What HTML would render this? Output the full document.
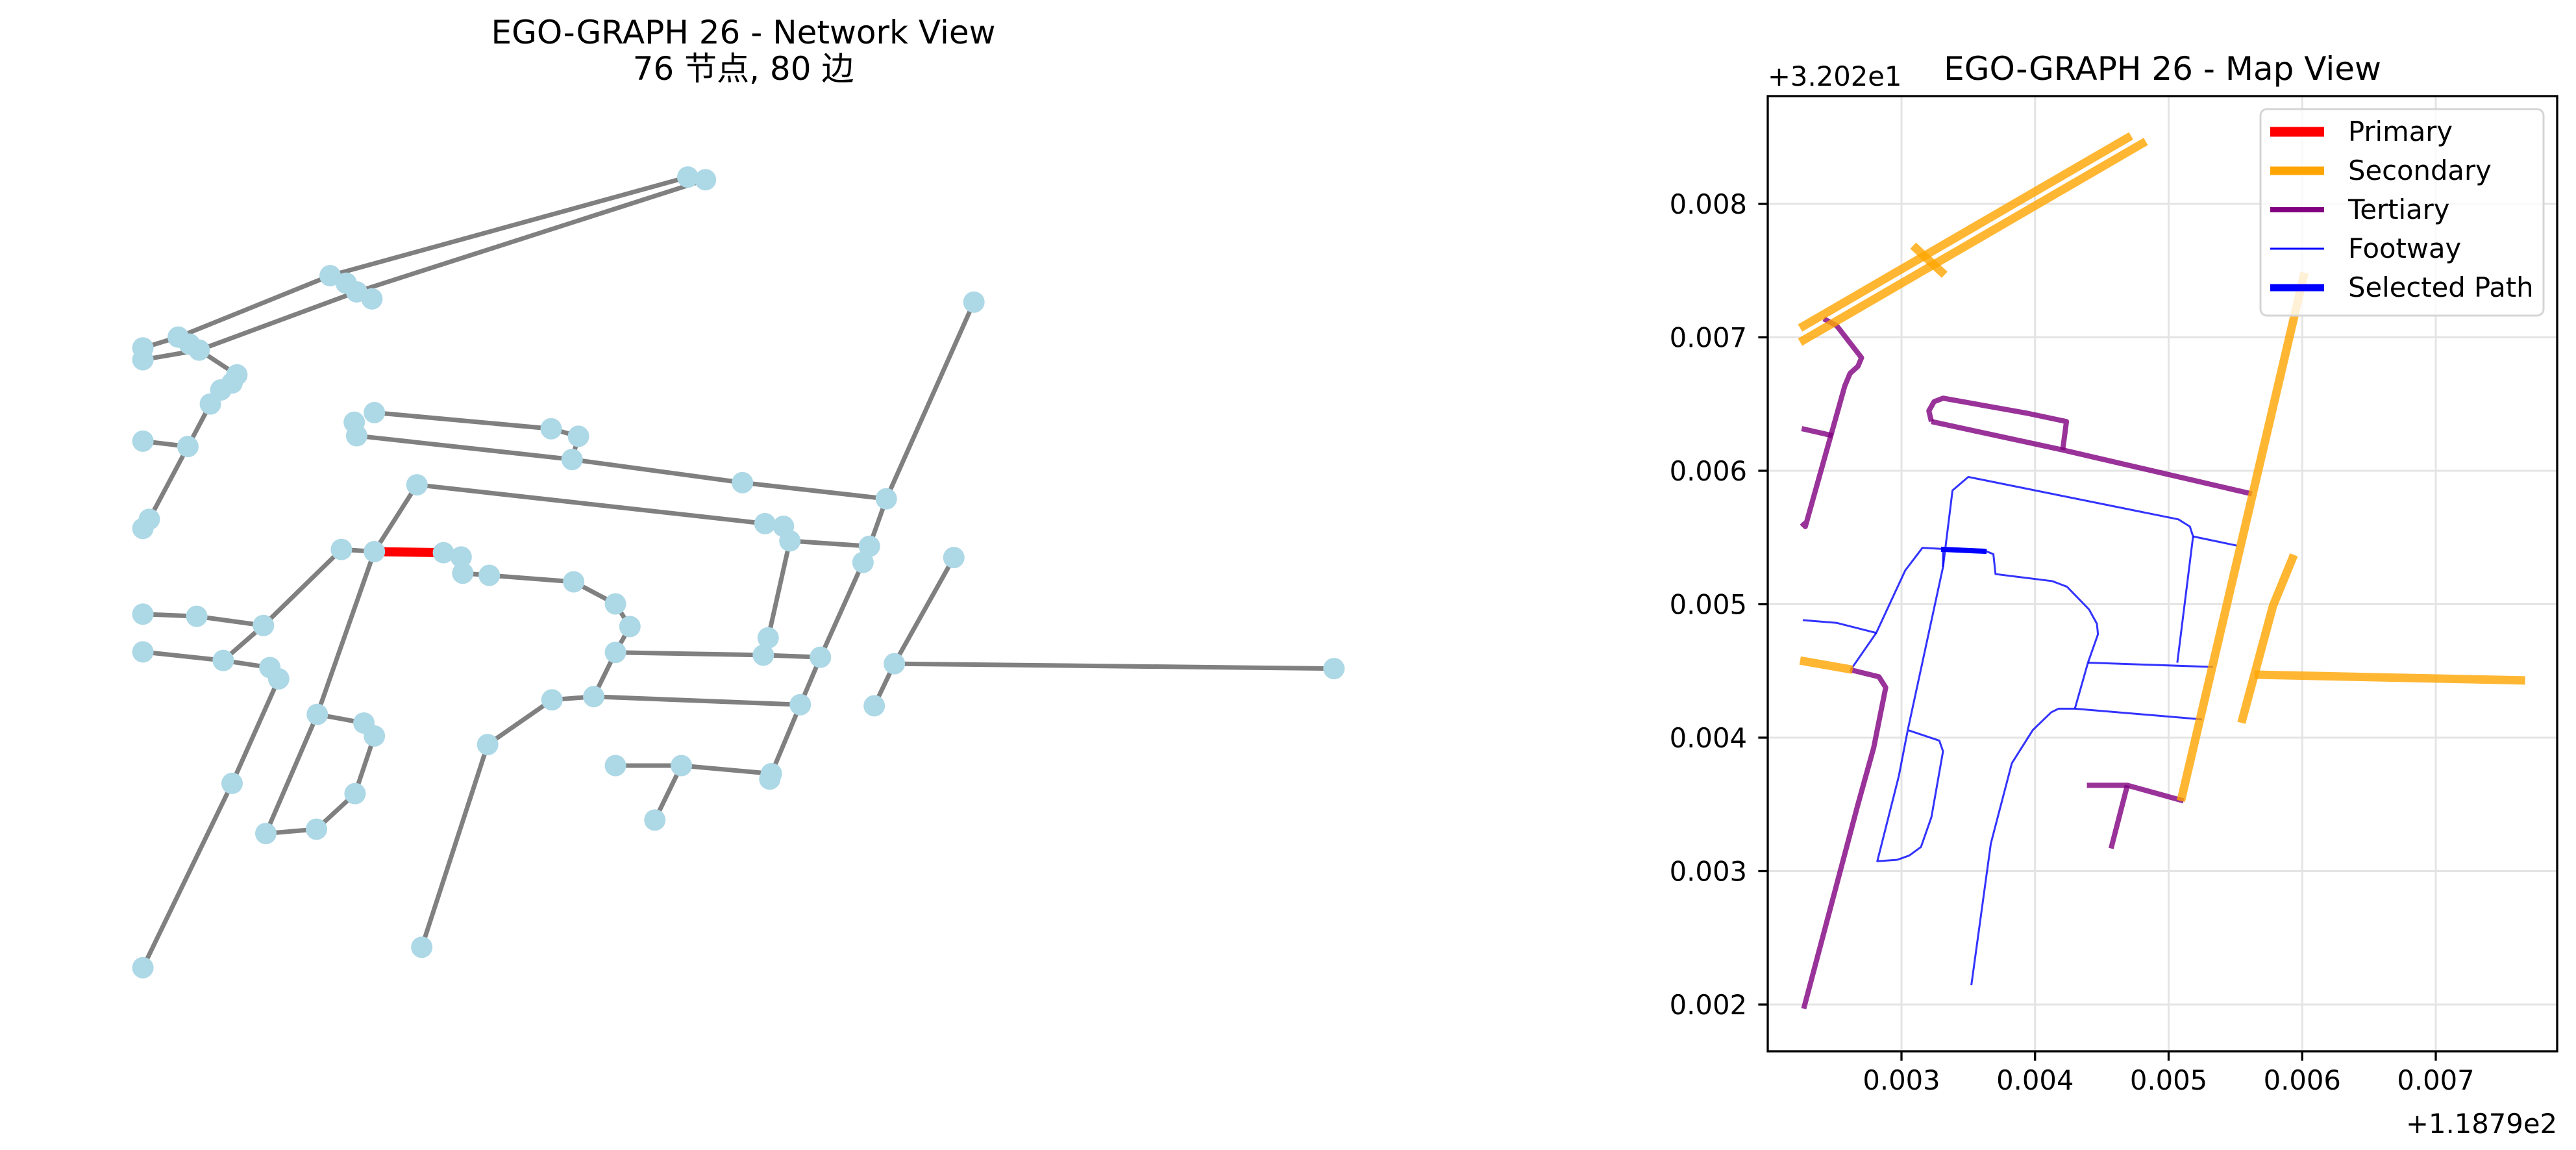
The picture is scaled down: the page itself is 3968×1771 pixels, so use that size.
<!DOCTYPE html>
<html><head><meta charset="utf-8"><style>
html,body{margin:0;padding:0;background:#fff;}
svg{display:block;font-family:"DejaVu Sans","Liberation Sans","Noto Sans CJK SC",sans-serif;}
</style></head><body>
<svg id="fig" width="3968" height="1771" viewBox="0 0 3968 1771" xmlns="http://www.w3.org/2000/svg">
<rect width="3968" height="1771" fill="#fff"/>
<text x="1145" y="67" font-size="50" text-anchor="middle">EGO-GRAPH 26 - Network View</text>
<text x="1145" y="123" font-size="50" text-anchor="middle" font-family="DejaVu Sans, Noto Sans CJK SC, sans-serif">76 节点, 80 边</text>
<g id="net"></g>
<text x="3331" y="123" font-size="50" text-anchor="middle">EGO-GRAPH 26 - Map View</text>
<g id="map"></g>
</svg>
<script>
// ---------- Network view data ----------
const nodeX=[712,734,267,287,300,319,34,34,78,92,104,151,145,131,118,1068,34,90,42,34,322,297,300,542,576,568,780,959,375,808,831,839,938,930,281,322,408,430,432,465,570,622,640,622,812,806,877,34,101,184,34,134,192,203,1043,969,1516,944,543,595,852,463,381,251,309,322,298,250,187,145,34,622,704,816,671,814];
const nodeY=[55,60,238,252,268,281,372,394,352,365,376,422,437,450,476,287,545,555,690,707,492,510,535,522,536,579,622,652,626,698,703,730,740,770,746,750,752,760,790,794,806,847,889,937,910,942,946,866,870,887,936,952,965,986,761,958,967,1036,1025,1019,1034,1108,1484,1052,1068,1092,1199,1265,1273,1180,1522,1147,1147,1162,1248,1172];
const edgeFrom=[6,8,2,7,10,4,3,10,11,12,13,14,16,17,18,20,23,24,21,22,25,26,15,27,32,28,29,30,31,31,44,28,34,36,37,38,39,40,41,42,43,45,33,46,60,43,59,58,58,61,34,47,48,49,50,51,52,53,69,35,63,64,65,66,67,68,54,55,55,71,72,72,73,9,35];
const edgeTo  =[8,2,0,10,4,1,5,11,12,13,14,17,17,18,19,23,24,25,22,25,26,27,27,32,33,29,30,31,32,44,45,35,35,37,38,39,40,41,42,43,45,46,46,60,73,59,60,59,61,62,49,48,49,51,51,52,53,69,70,63,64,65,66,67,68,63,55,56,57,72,73,74,75,10,36];
const selectedEdge=[35,36];
// ---------- Map view data (offsets in units of 1e-3) ----------
const xTicks=[3,4,5,6,7];
const xTickLabels=["0.003","0.004","0.005","0.006","0.007"];
const yTicks=[2,3,4,5,6,7,8];
const yTickLabels=["0.002","0.003","0.004","0.005","0.006","0.007","0.008"];
const secondaryLines=[
 [[2.241,7.070],[4.719,8.510]],
 [[2.241,6.964],[4.829,8.468]],
 [[3.087,7.687],[3.323,7.469]],
 [[5.092,3.526],[6.017,7.485]],
 [[5.545,4.111],[5.781,4.987],[5.938,5.370]],
 [[5.643,4.472],[7.669,4.429]],
 [[2.241,4.578],[2.634,4.509]]
];
const tertiaryLines=[
 [[2.418,7.139],[2.516,7.086],[2.701,6.847],[2.674,6.783],[2.615,6.730],[2.575,6.634],[2.280,5.582],[2.253,5.610]],
 [[2.253,6.316],[2.485,6.263]],
 [[4.207,6.156],[4.235,6.369],[3.932,6.433],[3.311,6.544],[3.244,6.518],[3.205,6.449],[3.224,6.369]],
 [[3.224,6.369],[4.207,6.156],[5.623,5.827]],
 [[2.615,4.509],[2.831,4.456],[2.882,4.376],[2.792,3.925],[2.674,3.500],[2.268,1.969]],
 [[4.388,3.643],[4.691,3.643],[5.112,3.526]],
 [[4.691,3.643],[4.569,3.170]]
];
const footwayLines=[
 [[2.261,4.881],[2.516,4.860],[2.811,4.785],[3.028,5.253],[3.157,5.423],[3.637,5.396],[3.688,5.375],[3.704,5.226],[4.129,5.173],[4.239,5.131],[4.404,4.961],[4.463,4.854],[4.471,4.775],[4.396,4.562],[4.298,4.217]],
 [[2.620,4.509],[2.811,4.785]],
 [[3.311,5.412],[3.311,5.279],[3.047,4.057],[2.980,3.712],[2.819,3.074],[2.969,3.085],[3.059,3.117],[3.146,3.181],[3.224,3.404],[3.311,3.898],[3.283,3.978],[3.047,4.057]],
 [[3.311,5.279],[3.382,5.853],[3.500,5.954],[5.073,5.636],[5.159,5.582],[5.183,5.508],[5.065,4.562]],
 [[5.183,5.508],[5.513,5.439]],
 [[4.396,4.562],[5.332,4.530]],
 [[4.298,4.217],[4.176,4.217],[4.121,4.190],[3.983,4.057],[3.826,3.808],[3.669,3.207],[3.523,2.145]],
 [[4.298,4.217],[5.250,4.137]]
];
const selectedLines=[[[3.296,5.412],[3.637,5.396]]];
const legendLabels=["Primary","Secondary","Tertiary","Footway","Selected Path"];
const legendColors=["#ff0000","#ffa500","#800080","#0000ff","#0000ff"];
const legendWidths=[15,13,8,3,11];

const NS="http://www.w3.org/2000/svg";
function mk(tag,attrs,parent){const e=document.createElementNS(NS,tag);for(const k in attrs)e.setAttribute(k,attrs[k]);parent.appendChild(e);return e;}

// network scales
const nxp=v=>178+v*1.238, nyp=v=>227+v*0.830;
const net=document.getElementById('net');
for(let i=0;i<edgeFrom.length;i++){
  const a=edgeFrom[i],b=edgeTo[i];
  const l=mk('line',{x1:nxp(nodeX[a]),y1:nyp(nodeY[a]),x2:nxp(nodeX[b]),y2:nyp(nodeY[b]),stroke:'#808080','stroke-width':7},net);
  
  
}
{
  const a=selectedEdge[0],b=selectedEdge[1];
  const l=mk('line',{x1:nxp(nodeX[a]),y1:nyp(nodeY[a]),x2:nxp(nodeX[b]),y2:nyp(nodeY[b]),stroke:'#ff0000','stroke-width':14},net);
  
  
}
for(let i=0;i<nodeX.length;i++){
  const c=mk('circle',{cx:nxp(nodeX[i]),cy:nyp(nodeY[i]),r:16.5,fill:'#add8e6'},net);
  
  
}

// map scales
const L=2723,R=3939,T=148,B=1619;
const X=v=>2929+(v-3)*205.75, Y=v=>1547-(v-2)*205.5;
const map=document.getElementById('map');
mk('clipPath',{id:'clip'},map).appendChild(Object.assign(document.createElementNS(NS,'rect'),{}));
document.querySelector('#clip rect').setAttribute('x',L);
document.querySelector('#clip rect').setAttribute('y',T);
document.querySelector('#clip rect').setAttribute('width',R-L);
document.querySelector('#clip rect').setAttribute('height',B-T);
for(let i=0;i<xTicks.length;i++){
  const g=mk('line',{x1:X(xTicks[i]),x2:X(xTicks[i]),y1:T,y2:B,stroke:'#e4e4e4','stroke-width':3},map);
  
  
  const t=mk('line',{x1:X(xTicks[i]),x2:X(xTicks[i]),y1:B,y2:B+14.6,stroke:'#000','stroke-width':3.3},map);
  
  
  const tx=mk('text',{x:X(xTicks[i]),y:1678,'font-size':41.7,'text-anchor':'middle'},map);
  tx.textContent=xTickLabels[i];
  
  
}
for(let i=0;i<yTicks.length;i++){
  const g=mk('line',{x1:L,x2:R,y1:Y(yTicks[i]),y2:Y(yTicks[i]),stroke:'#e4e4e4','stroke-width':3},map);
  
  
  const t=mk('line',{x1:L-14.6,x2:L,y1:Y(yTicks[i]),y2:Y(yTicks[i]),stroke:'#000','stroke-width':3.3},map);
  
  
  const tx=mk('text',{x:2691,y:Y(yTicks[i])+15,'font-size':41.7,'text-anchor':'end'},map);
  tx.textContent=yTickLabels[i];
  
  
}
const lg=mk('g',{'clip-path':'url(#clip)'},map);
function drawSet(lines,color,w,op,name){
  for(const pl of lines){
    const p=mk('polyline',{points:pl.map(q=>X(q[0])+','+Y(q[1])).join(' '),fill:'none',stroke:color,'stroke-width':w,'stroke-opacity':op,'stroke-linejoin':'round'},lg);
    
    
  }
}
drawSet(footwayLines,'#0000ff',3,0.8,'footway-line');
drawSet(tertiaryLines,'#800080',8,0.8,'tertiary-line');
drawSet(secondaryLines,'#ffa500',13,0.8,'secondary-line');
drawSet(selectedLines,'#0000ff',8,1,'selected-path-line');
// spines
const sp=mk('rect',{x:L,y:T,width:R-L,height:B-T,fill:'none',stroke:'#000','stroke-width':3.3},map);


// offset texts
const o1=mk('text',{x:2723,y:132,'font-size':41.7},map);o1.textContent='+3.202e1';


const o2=mk('text',{x:3939,y:1745,'font-size':41.7,'text-anchor':'end'},map);o2.textContent='+1.1879e2';


// legend
const leg=mk('rect',{x:3482,y:168,width:436,height:318,rx:10,fill:'#fff','fill-opacity':0.8,stroke:'#d5d5d5','stroke-width':3},map);


for(let i=0;i<legendLabels.length;i++){
  const by=217+i*60;
  const ln=mk('line',{x1:3497,x2:3580,y1:by-14,y2:by-14,stroke:legendColors[i],'stroke-width':legendWidths[i]},map);
  
  
  const t=mk('text',{x:3617,y:by,'font-size':41.7},map);
  t.textContent=legendLabels[i];
  
  
}
</script>
</body></html>
